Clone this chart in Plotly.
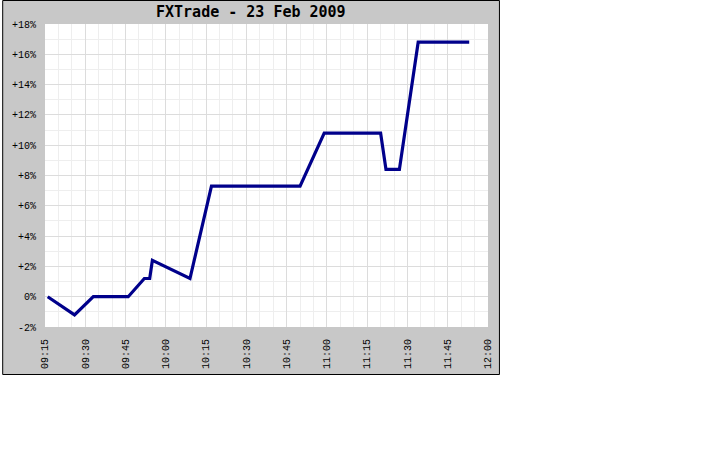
import plotly.graph_objects as go

# Data
times = ["09:16", "09:26", "09:33", "09:46", "09:52", "09:54", "09:55", "10:09",
         "10:17", "10:50", "10:59", "11:20", "11:22", "11:27", "11:34", "11:53"]
values = [0, -1.2, 0, 0, 1.2, 1.2, 2.4, 1.2, 7.3, 7.3, 10.8, 10.8, 8.4, 8.4, 16.8, 16.8]
y_ticks = [-2, 0, 2, 4, 6, 8, 10, 12, 14, 16, 18]
y_labels = ["-2%", "0%", "+2%", "+4%", "+6%", "+8%", "+10%", "+12%", "+14%", "+16%", "+18%"]
title_text = "FXTrade - 23 Feb 2009"
day = "2009-02-23"

x = [f"{day} {t}:00" for t in times]

W, H = 720, 450
L, R, T, B = 43, 488, 24, 327  # plot area pixel bounds
pw, ph = R - L, B - T

def px_x(p):
    return (p - L) / pw

def px_y(p):
    return (B - p) / ph

fig = go.Figure()
fig.add_trace(go.Scatter(x=x, y=values, mode="lines",
                         line=dict(color="#00008B", width=3.2),
                         hoverinfo="skip", showlegend=False))

font_mono = "DejaVu Sans Mono"
tick_font = "Liberation Mono"

fig.update_layout(
    width=W, height=H,
    margin=dict(l=L, r=W - R, t=T, b=H - B, pad=0),
    paper_bgcolor="white",
    plot_bgcolor="white",
    showlegend=False,
    shapes=[
        dict(type="rect", xref="paper", yref="paper", layer="below",
             x0=px_x(0.5), x1=px_x(499.5), y0=px_y(374.5), y1=px_y(0.5),
             fillcolor="#C8C8C8", line=dict(color="black", width=1)),
        dict(type="rect", xref="paper", yref="paper", layer="below",
             x0=0, x1=1, y0=0, y1=1,
             fillcolor="white", line=dict(width=0)),
    ],
    annotations=[
        dict(text="<b>" + title_text + "</b>", xref="paper", yref="paper",
             x=px_x(250), y=px_y(12), xanchor="center", yanchor="middle",
             showarrow=False, font=dict(family=font_mono, size=15, color="black")),
    ],
)

fig.update_xaxes(
    type="date",
    range=[f"{day} 09:15:00", f"{day} 12:00:00"],
    tickformat="%H:%M",
    dtick=15 * 60 * 1000,
    tick0=f"{day} 09:15:00",
    tickangle=-90,
    ticks="",
    ticklabelstandoff=9,
    tickfont=dict(family=tick_font, size=10, color="black"),
    showgrid=True, gridcolor="#DCDCDC", gridwidth=1,
    minor=dict(dtick=5 * 60 * 1000, showgrid=True, gridcolor="#EEEEEE", gridwidth=1),
    showline=False, zeroline=False, fixedrange=True,
)

fig.update_yaxes(
    range=[-2, 18],
    tickvals=y_ticks, ticktext=y_labels,
    ticks="",
    ticklabelstandoff=8,
    tickfont=dict(family=tick_font, size=10, color="black"),
    showgrid=True, gridcolor="#DCDCDC", gridwidth=1,
    minor=dict(dtick=1, tick0=0, showgrid=True, gridcolor="#EEEEEE", gridwidth=1),
    showline=False, zeroline=False, fixedrange=True,
)

fig.write_html("out.html", config={"displayModeBar": False},
               post_script="document.body.style.margin='0';")
